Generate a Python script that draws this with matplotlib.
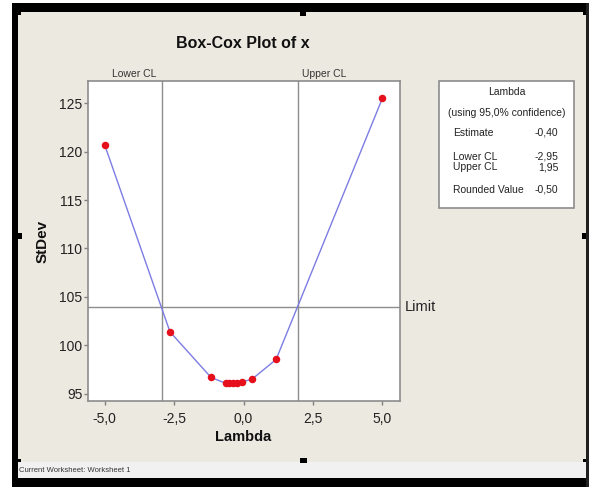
import matplotlib
matplotlib.use("Agg")
import matplotlib.pyplot as plt
from matplotlib.patches import Rectangle
from matplotlib.transforms import blended_transform_factory

plt.rcParams['font.family'] = ['Liberation Sans', 'DejaVu Sans']

# データ
lambdas = [-5.0, -2.65, -1.17, -0.65, -0.52, -0.38, -0.25, -0.06, 0.30, 1.17, 5.0]
stdevs = [120.7, 101.38, 96.66, 96.07, 96.07, 96.07, 96.07, 96.2, 96.48, 98.52, 125.54]
lower_cl = -2.95
upper_cl = 1.95
limit = 103.9

x_ticks = [-5.0, -2.5, 0.0, 2.5, 5.0]
x_tick_labels = ['-5,0', '-2,5', '0,0', '2,5', '5,0']
y_ticks = [95, 100, 105, 110, 115, 120, 125]

legend_names = ['Estimate', 'Lower CL', 'Upper CL', 'Rounded Value']
legend_values = ['-0,40', '-2,95', '1,95', '-0,50']

W, H = 589, 487
BEIGE = '#ECE9E1'


def fx(x):
    return x / W


def fy(y):
    return 1 - y / H


def rect(x0, y0, x1, y1, color, z=0):
    fig.add_artist(Rectangle((fx(x0), fy(y1)), fx(x1) - fx(x0), fy(y0) - fy(y1),
                             transform=fig.transFigure, facecolor=color,
                             edgecolor='none', zorder=z))


fig = plt.figure(figsize=(W / 100, H / 100), dpi=100, facecolor='white')

# 枠とウィンドウ
rect(18, 12, 586, 462, BEIGE, -10)
rect(18, 462, 586, 478, '#F1F1F1', -10)
rect(12, 3, 589, 12, 'black', -9)
rect(12, 3, 18, 487, 'black', -9)
rect(12, 478, 589, 487, 'black', -9)
rect(586, 3, 589, 487, '#202020', -9)
for hx0, hy0, hx1, hy1 in [(300, 12, 306, 16), (300, 458, 307, 463), (18, 233, 22, 239),
                           (582, 233, 586, 239), (18, 12, 21, 15), (18, 459, 21, 462),
                           (583, 12, 586, 15), (583, 459, 586, 462)]:
    rect(hx0, hy0, hx1, hy1, 'black', -8)
fig.text(fx(19), fy(471), 'Current Worksheet: Worksheet 1', fontsize=5.5,
         va='center', ha='left', color='#333333')

# プロット
ax = fig.add_axes([fx(88), fy(401), fx(400) - fx(88), fy(81) - fy(401)])
ax.set_facecolor('white')
ax.plot(lambdas, stdevs, '-', color='#7C7CE3', lw=1.0, zorder=3)
ax.plot(lambdas, stdevs, 'o', color='#E5101B', ms=4.4, mec='#E5101B', zorder=4)

ax.axvline(lower_cl, color='#8E8E8E', lw=1.0, zorder=2)
ax.axvline(upper_cl, color='#8E8E8E', lw=1.0, zorder=2)
ax.axhline(limit, color='#8E8E8E', lw=1.0, zorder=2)

ax.set_xlim(-5.6, 5.63)
ax.set_ylim(94.23, 127.3)
ax.set_xticks(x_ticks)
ax.set_xticklabels(x_tick_labels)
ax.set_yticks(y_ticks)
ax.tick_params(axis='both', direction='out', length=2.6, width=1, color='#808080',
               labelsize=10, labelcolor='#222222')
ax.tick_params(axis='x', pad=5)
ax.tick_params(axis='y', pad=1.5)
for s in ax.spines.values():
    s.set_color('#8C8C8C')
    s.set_linewidth(1.2)

trans = blended_transform_factory(ax.transData, ax.transAxes)
ax.annotate('Lower CL', xy=(lower_cl, 1.0), xycoords=trans, xytext=(-3.5, 1.5),
            textcoords='offset points', ha='right', va='bottom', fontsize=7.5,
            color='#333333')
ax.annotate('Upper CL', xy=(upper_cl, 1.0), xycoords=trans, xytext=(3, 1.5),
            textcoords='offset points', ha='left', va='bottom', fontsize=7.5,
            color='#333333')
trans_y = blended_transform_factory(ax.transAxes, ax.transData)
ax.text(1.016, limit, 'Limit', transform=trans_y, ha='left', va='center',
        fontsize=10.5, color='#222222')

# タイトル・ラベル
fig.text(fx(243), fy(43), 'Box-Cox Plot of x', ha='center', va='center',
         fontsize=11.5, fontweight='bold', color='#111111')
fig.text(fx(243.6), fy(437), 'Lambda', ha='center', va='center',
         fontsize=10.5, fontweight='bold', color='#111111')
fig.text(fx(42.5), fy(241), 'StDev', ha='center', va='center', rotation=90,
         fontsize=11, fontweight='bold', color='#111111')

# 凡例ボックス
fig.add_artist(Rectangle((fx(439), fy(208)), fx(574) - fx(439), fy(81) - fy(208),
                         transform=fig.transFigure, facecolor='white',
                         edgecolor='#8C8C8C', lw=1.2, zorder=1))
cx = fx(506.5)
fig.text(cx, fy(95.5), 'Lambda', ha='center', va='baseline', fontsize=7.5, color='#222222')
fig.text(cx, fy(116.5), '(using 95,0% confidence)', ha='center', va='baseline',
         fontsize=7.5, color='#222222')
row_y = [135.5, 159.5, 170.5, 193]
for name, val, ry in zip(legend_names, legend_values, row_y):
    fig.text(fx(453), fy(ry), name, ha='left', va='baseline', fontsize=7.5, color='#222222')
    fig.text(fx(558.5), fy(ry), val, ha='right', va='baseline', fontsize=7.5, color='#222222')

fig.savefig('out.png', dpi=100, facecolor=fig.get_facecolor())
